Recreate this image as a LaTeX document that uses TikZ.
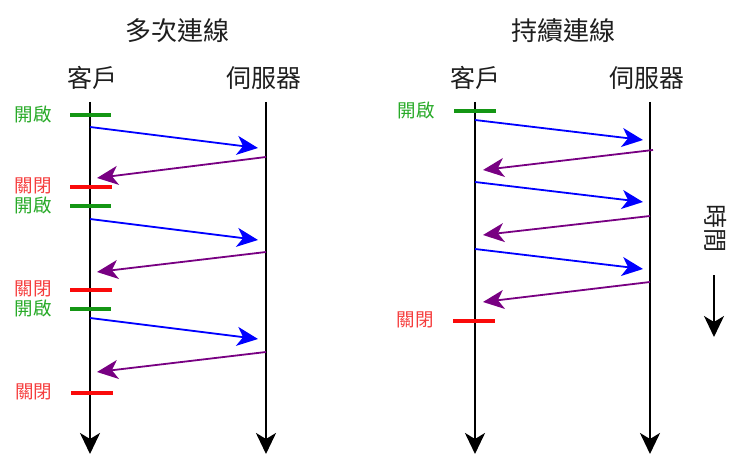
\documentclass[tikz,border=0pt]{standalone}
\usepackage{fontspec}
\setmainfont{Noto Sans CJK TC}
\usetikzlibrary{arrows.meta}
\definecolor{gbar}{RGB}{20,150,20}
\definecolor{glab}{RGB}{40,170,40}
\definecolor{rbar}{RGB}{250,10,10}
\definecolor{rlab}{RGB}{245,60,60}
\definecolor{pur}{RGB}{120,0,130}
\definecolor{txt}{RGB}{30,30,30}
\tikzset{
  title/.style={font=\fontsize{26}{28}\selectfont, text=txt, inner sep=0pt},
  head/.style={font=\fontsize{25}{27}\selectfont, text=txt, inner sep=0pt},
  lab/.style={font=\fontsize{18.5}{20}\selectfont, inner sep=0pt},
  bigtip/.style={-{Stealth[length=21pt,width=19pt,inset=6pt]}},
  timeline/.style={line width=2.6pt, draw=black, -{Stealth[length=21pt,width=20pt,inset=6pt]}},
  openbar/.style={line width=4pt, draw=gbar},
  closebar/.style={line width=4pt, draw=rbar},
  req/.style={line width=1.8pt, draw=blue, bigtip},
  resp/.style={line width=1.8pt, draw=pur, bigtip},
}
\begin{document}
\begin{tikzpicture}[x=1pt,y=-1pt]
\useasboundingbox (0,0) rectangle (745,468);
% ---------- left panel ----------
\node[title] (t1) at (177,31) {多次連線};
\node[head] (c1) at (92,78) {客戶};
\node[head] (s1) at (264,78) {伺服器};
\coordinate (c1top) at (90,102); \coordinate (c1bot) at (90,454);
\coordinate (s1top) at (266,102); \coordinate (s1bot) at (266,454);
\draw[timeline] (c1top) -- (c1bot);
\draw[timeline] (s1top) -- (s1bot);
% bars
\coordinate (o1a) at (70,115); \coordinate (o1b) at (111,115);
\draw[openbar] (o1a) -- (o1b);
\node[lab,text=glab] (lo1) at (33,114) {開啟};
\coordinate (x1a) at (70,187); \coordinate (x1b) at (112,187);
\draw[closebar] (x1a) -- (x1b);
\node[lab,text=rlab] (lx1) at (33,186) {關閉};
\coordinate (o2a) at (70,206); \coordinate (o2b) at (111,206);
\draw[openbar] (o2a) -- (o2b);
\node[lab,text=glab] (lo2) at (33,205) {開啟};
\coordinate (x2a) at (70,290); \coordinate (x2b) at (112,290);
\draw[closebar] (x2a) -- (x2b);
\node[lab,text=rlab] (lx2) at (33,289) {關閉};
\coordinate (o3a) at (70,309); \coordinate (o3b) at (111,309);
\draw[openbar] (o3a) -- (o3b);
\node[lab,text=glab] (lo3) at (33,308) {開啟};
\coordinate (x3a) at (71,393); \coordinate (x3b) at (113,393);
\draw[closebar] (x3a) -- (x3b);
\node[lab,text=rlab] (lx3) at (34,392) {關閉};
% messages
\coordinate (a1) at (90,127); \coordinate (b1) at (258,148);
\draw[req] (a1) -- (b1);
\coordinate (a2) at (266,157); \coordinate (b2) at (97,178);
\draw[resp] (a2) -- (b2);
\coordinate (a3) at (90,219); \coordinate (b3) at (258,240);
\draw[req] (a3) -- (b3);
\coordinate (a4) at (266,252); \coordinate (b4) at (97,272);
\draw[resp] (a4) -- (b4);
\coordinate (a5) at (90,318); \coordinate (b5) at (258,339);
\draw[req] (a5) -- (b5);
\coordinate (a6) at (266,352) ; \coordinate (b6) at (97,372);
\draw[resp] (a6) -- (b6);
% ---------- right panel ----------
\node[title] (t2) at (563,31) {持續連線};
\node[head] (c2) at (475,78) {客戶};
\node[head] (s2) at (647,78) {伺服器};
\coordinate (c2top) at (475,102); \coordinate (c2bot) at (475,454);
\coordinate (s2top) at (650,102); \coordinate (s2bot) at (650,454);
\draw[timeline] (c2top) -- (c2bot);
\draw[timeline] (s2top) -- (s2bot);
\coordinate (o4a) at (454,111); \coordinate (o4b) at (496,111);
\draw[openbar] (o4a) -- (o4b);
\node[lab,text=glab] (lo4) at (416,110) {開啟};
\coordinate (x4a) at (453,321); \coordinate (x4b) at (495,321);
\draw[closebar] (x4a) -- (x4b);
\node[lab,text=rlab] (lx4) at (415,320) {關閉};
\coordinate (p1) at (475,120); \coordinate (q1) at (643,140);
\draw[req] (p1) -- (q1);
\coordinate (p2) at (653,150); \coordinate (q2) at (483,170);
\draw[resp] (p2) -- (q2);
\coordinate (p3) at (475,182); \coordinate (q3) at (643,202);
\draw[req] (p3) -- (q3);
\coordinate (p4) at (650,216); \coordinate (q4) at (483,235);
\draw[resp] (p4) -- (q4);
\coordinate (p5) at (475,249); \coordinate (q5) at (643,269);
\draw[req] (p5) -- (q5);
\coordinate (p6) at (650,282); \coordinate (q6) at (483,302);
\draw[resp] (p6) -- (q6);
% time label
\node[text=txt,inner sep=0pt,rotate=-90,font=\fontsize{24}{26}\selectfont] (time) at (716,229) {時間};
\coordinate (ta) at (714,275); \coordinate (tb) at (714,337);
\draw[line width=1.8pt, -{Stealth[length=21pt,width=20pt,inset=6pt]}] (ta) -- (tb);
\end{tikzpicture}
\end{document}
